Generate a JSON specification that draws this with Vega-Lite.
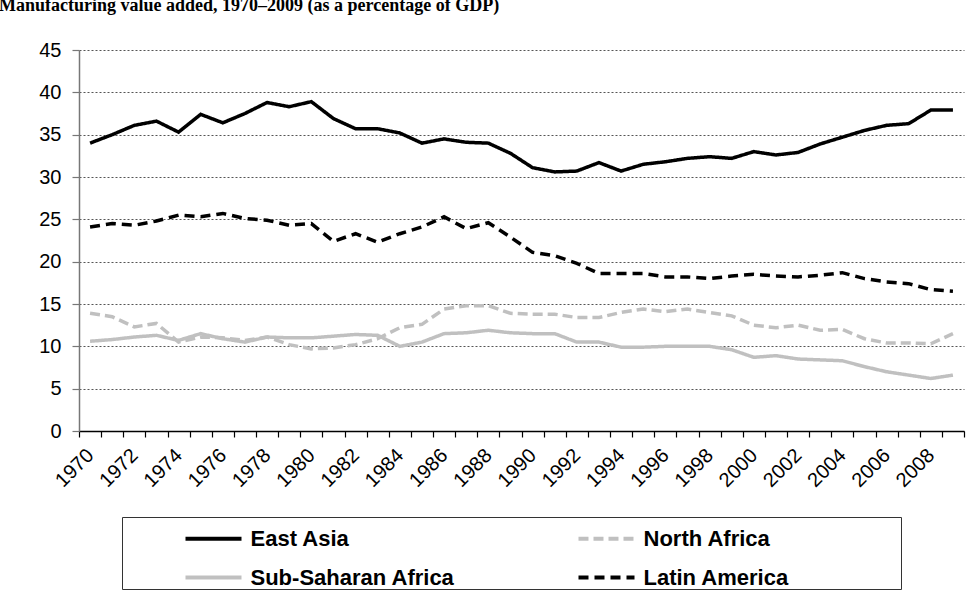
{
  "$schema": "https://vega.github.io/schema/vega-lite/v6.json",
  "width": 885,
  "height": 381,
  "autosize": {"type": "none"},
  "padding": {"left": 79, "top": 50, "right": 10, "bottom": 168},
  "background": "white",
  "title": {
    "text": "Manufacturing value added, 1970–2009 (as a percentage of GDP)",
    "anchor": "start",
    "frame": "group",
    "font": "Liberation Serif",
    "fontSize": 18,
    "fontWeight": "bold",
    "color": "black",
    "dx": -80,
    "dy": -25,
    "offset": 0
  },
  "data": {
    "values": [
      {"year": 1970, "East Asia": 34.0, "North Africa": 13.9, "Sub-Saharan Africa": 10.6, "Latin America": 24.1},
      {"year": 1971, "East Asia": 35.0, "North Africa": 13.5, "Sub-Saharan Africa": 10.8, "Latin America": 24.5},
      {"year": 1972, "East Asia": 36.1, "North Africa": 12.3, "Sub-Saharan Africa": 11.1, "Latin America": 24.3},
      {"year": 1973, "East Asia": 36.6, "North Africa": 12.7, "Sub-Saharan Africa": 11.3, "Latin America": 24.8},
      {"year": 1974, "East Asia": 35.3, "North Africa": 10.5, "Sub-Saharan Africa": 10.7, "Latin America": 25.5},
      {"year": 1975, "East Asia": 37.4, "North Africa": 11.1, "Sub-Saharan Africa": 11.5, "Latin America": 25.3},
      {"year": 1976, "East Asia": 36.4, "North Africa": 11.0, "Sub-Saharan Africa": 10.9, "Latin America": 25.7},
      {"year": 1977, "East Asia": 37.5, "North Africa": 10.7, "Sub-Saharan Africa": 10.5, "Latin America": 25.1},
      {"year": 1978, "East Asia": 38.8, "North Africa": 11.1, "Sub-Saharan Africa": 11.1, "Latin America": 24.9},
      {"year": 1979, "East Asia": 38.3, "North Africa": 10.2, "Sub-Saharan Africa": 11.0, "Latin America": 24.3},
      {"year": 1980, "East Asia": 38.9, "North Africa": 9.7, "Sub-Saharan Africa": 11.0, "Latin America": 24.5},
      {"year": 1981, "East Asia": 36.9, "North Africa": 9.8, "Sub-Saharan Africa": 11.2, "Latin America": 22.4},
      {"year": 1982, "East Asia": 35.7, "North Africa": 10.2, "Sub-Saharan Africa": 11.4, "Latin America": 23.3},
      {"year": 1983, "East Asia": 35.7, "North Africa": 10.9, "Sub-Saharan Africa": 11.3, "Latin America": 22.3},
      {"year": 1984, "East Asia": 35.2, "North Africa": 12.2, "Sub-Saharan Africa": 10.0, "Latin America": 23.3},
      {"year": 1985, "East Asia": 34.0, "North Africa": 12.6, "Sub-Saharan Africa": 10.5, "Latin America": 24.1},
      {"year": 1986, "East Asia": 34.5, "North Africa": 14.4, "Sub-Saharan Africa": 11.5, "Latin America": 25.3},
      {"year": 1987, "East Asia": 34.1, "North Africa": 14.8, "Sub-Saharan Africa": 11.6, "Latin America": 23.9},
      {"year": 1988, "East Asia": 34.0, "North Africa": 14.8, "Sub-Saharan Africa": 11.9, "Latin America": 24.6},
      {"year": 1989, "East Asia": 32.8, "North Africa": 13.9, "Sub-Saharan Africa": 11.6, "Latin America": 22.9},
      {"year": 1990, "East Asia": 31.1, "North Africa": 13.8, "Sub-Saharan Africa": 11.5, "Latin America": 21.1},
      {"year": 1991, "East Asia": 30.6, "North Africa": 13.8, "Sub-Saharan Africa": 11.5, "Latin America": 20.7},
      {"year": 1992, "East Asia": 30.7, "North Africa": 13.4, "Sub-Saharan Africa": 10.5, "Latin America": 19.8},
      {"year": 1993, "East Asia": 31.7, "North Africa": 13.4, "Sub-Saharan Africa": 10.5, "Latin America": 18.6},
      {"year": 1994, "East Asia": 30.7, "North Africa": 14.0, "Sub-Saharan Africa": 9.9, "Latin America": 18.6},
      {"year": 1995, "East Asia": 31.5, "North Africa": 14.4, "Sub-Saharan Africa": 9.9, "Latin America": 18.6},
      {"year": 1996, "East Asia": 31.8, "North Africa": 14.1, "Sub-Saharan Africa": 10.0, "Latin America": 18.2},
      {"year": 1997, "East Asia": 32.2, "North Africa": 14.4, "Sub-Saharan Africa": 10.0, "Latin America": 18.2},
      {"year": 1998, "East Asia": 32.4, "North Africa": 14.0, "Sub-Saharan Africa": 10.0, "Latin America": 18.0},
      {"year": 1999, "East Asia": 32.2, "North Africa": 13.6, "Sub-Saharan Africa": 9.6, "Latin America": 18.3},
      {"year": 2000, "East Asia": 33.0, "North Africa": 12.5, "Sub-Saharan Africa": 8.7, "Latin America": 18.5},
      {"year": 2001, "East Asia": 32.6, "North Africa": 12.2, "Sub-Saharan Africa": 8.9, "Latin America": 18.3},
      {"year": 2002, "East Asia": 32.9, "North Africa": 12.5, "Sub-Saharan Africa": 8.5, "Latin America": 18.2},
      {"year": 2003, "East Asia": 33.9, "North Africa": 11.9, "Sub-Saharan Africa": 8.4, "Latin America": 18.4},
      {"year": 2004, "East Asia": 34.7, "North Africa": 12.0, "Sub-Saharan Africa": 8.3, "Latin America": 18.7},
      {"year": 2005, "East Asia": 35.5, "North Africa": 10.9, "Sub-Saharan Africa": 7.6, "Latin America": 18.0},
      {"year": 2006, "East Asia": 36.1, "North Africa": 10.4, "Sub-Saharan Africa": 7.0, "Latin America": 17.6},
      {"year": 2007, "East Asia": 36.3, "North Africa": 10.4, "Sub-Saharan Africa": 6.6, "Latin America": 17.4},
      {"year": 2008, "East Asia": 37.9, "North Africa": 10.3, "Sub-Saharan Africa": 6.2, "Latin America": 16.7},
      {"year": 2009, "East Asia": 37.9, "North Africa": 11.5, "Sub-Saharan Africa": 6.6, "Latin America": 16.5}
    ]
  },
  "transform": [
    {"fold": ["Sub-Saharan Africa", "North Africa", "Latin America", "East Asia"], "as": ["region", "value"]}
  ],
  "mark": {"type": "line", "strokeWidth": 3.5, "strokeCap": "butt", "strokeJoin": "miter"},
  "encoding": {
    "x": {
      "field": "year",
      "type": "ordinal",
      "scale": {"type": "band", "paddingInner": 0, "paddingOuter": 0},
      "axis": {
        "title": null,
        "tickBand": "extent",
        "labelAngle": -45,
        "labelAlign": "right",
        "labelBaseline": "middle",
        "labelExpr": "datum.value % 2 == 0 ? datum.label : ''",
        "labelFont": "Liberation Sans",
        "labelFontSize": 20,
        "labelColor": "black",
        "labelPadding": 15,
        "labelOverlap": false,
        "domainColor": "black",
        "domainWidth": 1.5,
        "tickColor": "black",
        "tickWidth": 1.2,
        "tickSize": 6,
        "grid": false
      }
    },
    "y": {
      "field": "value",
      "type": "quantitative",
      "scale": {"domain": [0, 45], "nice": false},
      "axis": {
        "title": null,
        "values": [0, 5, 10, 15, 20, 25, 30, 35, 40, 45],
        "labelFont": "Liberation Sans",
        "labelFontSize": 20,
        "labelColor": "black",
        "labelPadding": 11,
        "domainColor": "#777777",
        "domainWidth": 1.5,
        "tickColor": "#777777",
        "tickWidth": 1.2,
        "tickSize": 7,
        "grid": true,
        "gridColor": "#555555",
        "gridDash": [2, 2],
        "gridWidth": 1
      }
    },
    "color": {
      "field": "region",
      "type": "nominal",
      "scale": {
        "domain": ["East Asia", "North Africa", "Sub-Saharan Africa", "Latin America"],
        "range": ["#000000", "#c0c0c0", "#c0c0c0", "#000000"]
      },
      "legend": {
        "title": " ",
        "titleOrient": "left",
        "titlePadding": 70,
        "orient": "none",
        "legendX": 43,
        "legendY": 467,
        "direction": "horizontal",
        "columns": 2,
        "columnPadding": 115,
        "rowPadding": 6,
        "padding": 0,
        "strokeColor": "#333333",
        "symbolType": "M-1.436,0H1.436",
        "symbolSize": 1521,
        "symbolStrokeWidth": 4,
        "labelFont": "Liberation Sans",
        "labelFontSize": 22,
        "labelFontWeight": "bold",
        "labelColor": "black",
        "labelOffset": 15.5,
        "labelLimit": 0,
        "labelExpr": "datum.label == 'North Africa' || datum.label == 'Latin America' ? datum.label + '\u2800\u2800\u2800\u2800\u2800\u2800\u2800' : datum.label"
      }
    },
    "strokeDash": {
      "field": "region",
      "type": "nominal",
      "scale": {
        "domain": ["East Asia", "North Africa", "Sub-Saharan Africa", "Latin America"],
        "range": [[1, 0], [10, 5], [1, 0], [10, 6]]
      },
      "legend": {
        "title": " ",
        "titleOrient": "left",
        "titlePadding": 70,
        "orient": "none",
        "legendX": 43,
        "legendY": 467,
        "direction": "horizontal",
        "columns": 2,
        "columnPadding": 115,
        "rowPadding": 6,
        "padding": 0,
        "strokeColor": "#333333",
        "symbolType": "M-1.436,0H1.436",
        "symbolSize": 1521,
        "symbolStrokeWidth": 4,
        "labelFont": "Liberation Sans",
        "labelFontSize": 22,
        "labelFontWeight": "bold",
        "labelColor": "black",
        "labelOffset": 15.5,
        "labelLimit": 0,
        "labelExpr": "datum.label == 'North Africa' || datum.label == 'Latin America' ? datum.label + '\u2800\u2800\u2800\u2800\u2800\u2800\u2800' : datum.label"
      }
    }
  },
  "config": {
    "view": {"stroke": null}
  }
}
